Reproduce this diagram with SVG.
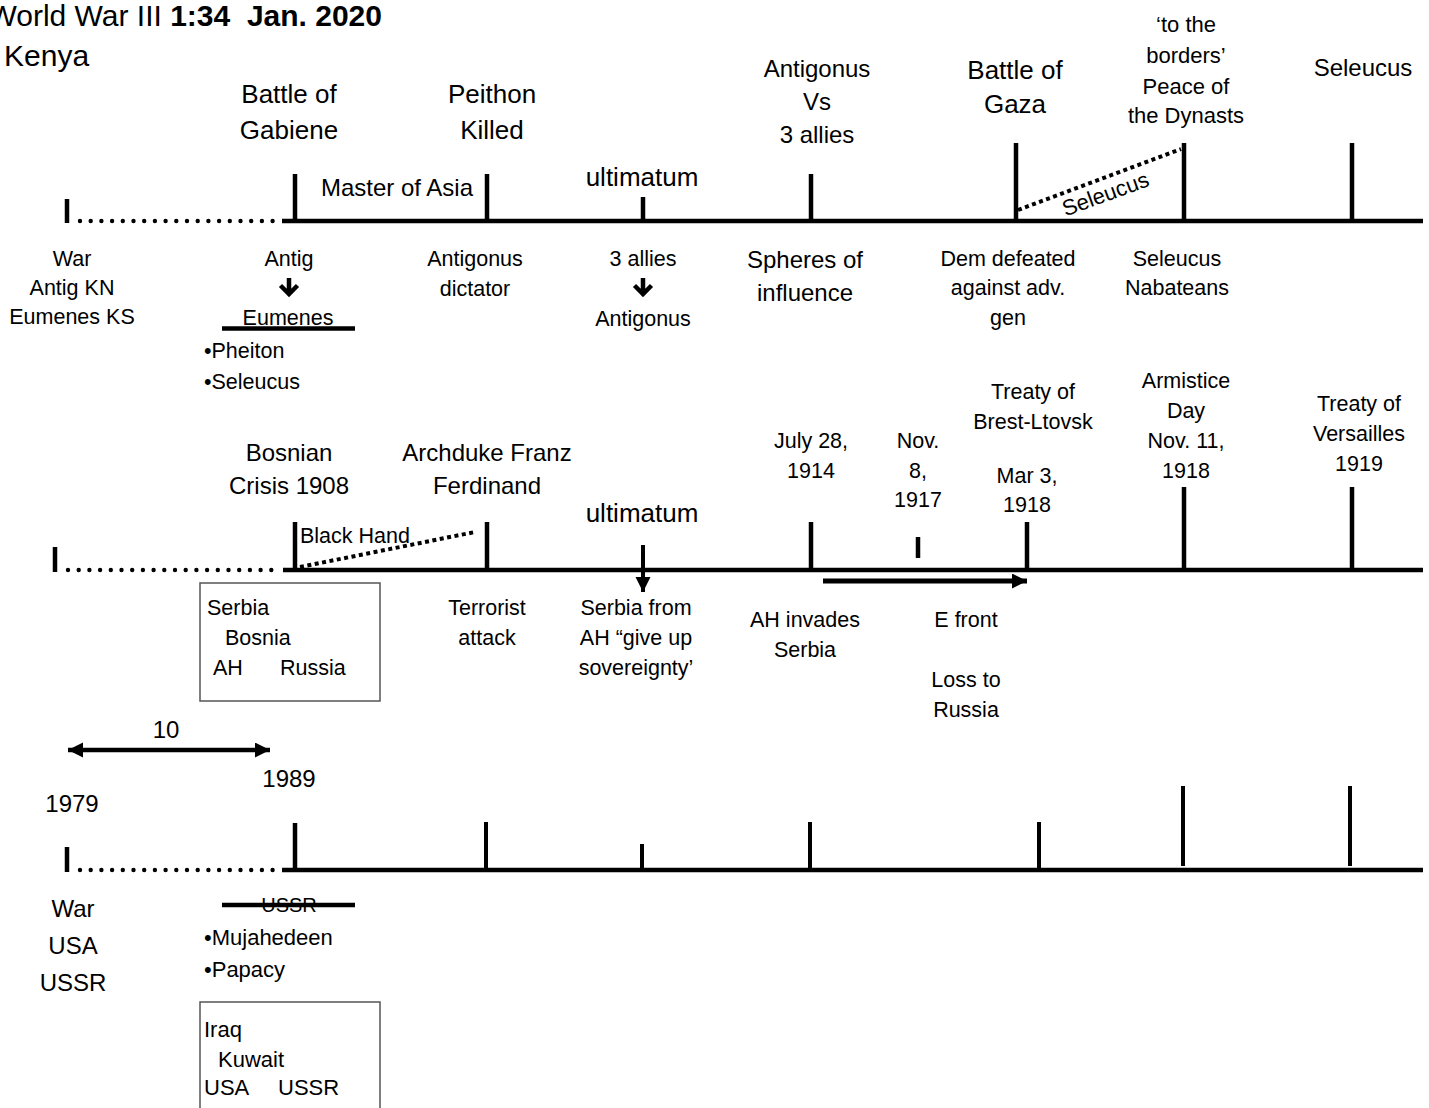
<svg xmlns="http://www.w3.org/2000/svg" width="1429" height="1108" viewBox="0 0 1429 1108">
<style>
text{font-family:"Liberation Sans",Arial,sans-serif;fill:#000}
.c{text-anchor:middle}
.s21{font-size:21.5px}
.s22{font-size:22px}
.s24{font-size:24px}
.s26{font-size:26px}
.ln{stroke:#000;stroke-width:4.5;fill:none}
.tk{stroke:#000;stroke-width:4.5;fill:none}
.tk3{stroke:#000;stroke-width:4;fill:none}
.dots{stroke:#000;stroke-width:4.4;stroke-linecap:round;stroke-dasharray:0 10.7;fill:none}
.dash{stroke:#000;stroke-width:4;stroke-dasharray:4 3.5;fill:none}
.box{fill:none;stroke:#555;stroke-width:1.5}
.dn{stroke:#000;stroke-width:4.5;fill:none;stroke-linejoin:miter}
</style>
<defs>
<marker id="ah" markerUnits="userSpaceOnUse" markerWidth="16" markerHeight="16" refX="15" refY="7.5" orient="auto-start-reverse" viewBox="0 0 16 16">
<path d="M0,0 L15,7.5 L0,15 z" fill="#000"/>
</marker>
</defs>
<rect width="1429" height="1108" fill="#fff"/>

<g id="connectors">
<!-- timeline 1 -->
<line class="tk" x1="67" y1="199" x2="67" y2="223"/>
<line class="dots" x1="80" y1="221" x2="278" y2="221"/>
<line class="ln" x1="282" y1="221" x2="1423" y2="221"/>
<line class="tk" x1="295" y1="174" x2="295" y2="221"/>
<line class="tk" x1="487" y1="174" x2="487" y2="221"/>
<line class="tk" x1="643" y1="197" x2="643" y2="221"/>
<line class="tk" x1="811" y1="174" x2="811" y2="221"/>
<line class="tk" x1="1016" y1="143" x2="1016" y2="221"/>
<line class="tk" x1="1184" y1="143" x2="1184" y2="221"/>
<line class="tk" x1="1352" y1="143" x2="1352" y2="221"/>
<line class="dash" x1="1018" y1="210" x2="1181" y2="149"/>
<path class="dn" d="M289,278 V294 M280.5,285.5 L289,294 L297.5,285.5"/>
<path class="dn" d="M643,278 V294 M634.5,285.5 L643,294 L651.5,285.5"/>
<line class="tk" x1="222" y1="328.5" x2="355" y2="328.5"/>
<!-- timeline 2 -->
<line class="tk" x1="55" y1="547" x2="55" y2="572"/>
<line class="dots" x1="68" y1="570" x2="275" y2="570"/>
<line class="ln" x1="283" y1="570" x2="1423" y2="570"/>
<line class="tk" x1="295" y1="522" x2="295" y2="570"/>
<line class="tk" x1="487" y1="522" x2="487" y2="570"/>
<line class="tk" x1="811" y1="522" x2="811" y2="570"/>
<line class="tk" x1="918" y1="537" x2="918" y2="558"/>
<line class="tk" x1="1027" y1="522" x2="1027" y2="570"/>
<line class="tk" x1="1184" y1="487" x2="1184" y2="568"/>
<line class="tk" x1="1352" y1="487" x2="1352" y2="568"/>
<line class="dash" x1="300" y1="567" x2="475" y2="532"/>
<line x1="643" y1="545" x2="643" y2="592" stroke="#000" stroke-width="4" marker-end="url(#ah)"/>
<line x1="823" y1="581" x2="1027" y2="581" stroke="#000" stroke-width="5" marker-end="url(#ah)"/>
<!-- timeline 3 -->
<line x1="68" y1="750" x2="270" y2="750" stroke="#000" stroke-width="4.5" marker-start="url(#ah)" marker-end="url(#ah)"/>
<line class="tk" x1="67" y1="847" x2="67" y2="872"/>
<line class="dots" x1="80" y1="870" x2="275" y2="870"/>
<line class="ln" x1="282" y1="870" x2="1423" y2="870"/>
<line class="tk" x1="295" y1="823" x2="295" y2="870"/>
<line class="tk3" x1="486" y1="822" x2="486" y2="870"/>
<line class="tk3" x1="642" y1="844" x2="642" y2="870"/>
<line class="tk3" x1="810" y1="822" x2="810" y2="870"/>
<line class="tk3" x1="1039" y1="822" x2="1039" y2="870"/>
<line class="tk3" x1="1183" y1="786" x2="1183" y2="866"/>
<line class="tk3" x1="1350" y1="786" x2="1350" y2="866"/>
<line class="tk" x1="222" y1="905" x2="355" y2="905"/>
</g>

<g id="title">
<text x="382" y="26" font-size="30" text-anchor="end" xml:space="preserve">World War III <tspan font-weight="bold">1:34  Jan. 2020</tspan></text>
<text x="4" y="66" font-size="30">Kenya</text>
</g>

<!-- Section 1 top labels -->
<g id="n-gabiene"><text class="c s26" x="289" y="103">Battle of</text><text class="c s26" x="289" y="139">Gabiene</text></g>
<g id="n-master"><text class="c s24" x="397" y="196">Master of Asia</text></g>
<g id="n-peithon"><text class="c s26" x="492" y="103">Peithon</text><text class="c s26" x="492" y="139">Killed</text></g>
<g id="n-ultimatum1"><text class="c s26" x="642" y="186">ultimatum</text></g>
<g id="n-antvs"><text class="c s24" x="817" y="77">Antigonus</text><text class="c s24" x="817" y="110">Vs</text><text class="c s24" x="817" y="143">3 allies</text></g>
<g id="n-gaza"><text class="c s26" x="1015" y="79">Battle of</text><text class="c s26" x="1015" y="113">Gaza</text></g>
<g id="n-seleucus-dash"><text class="s22 c" transform="translate(1108,201) rotate(-20)">Seleucus</text></g>
<g id="n-dynasts"><text class="c s22" x="1186" y="32">‘to the</text><text class="c s22" x="1186" y="63">borders’</text><text class="c s22" x="1186" y="94">Peace of</text><text class="c s22" x="1186" y="123">the Dynasts</text></g>
<g id="n-seleucus-top"><text class="c s24" x="1363" y="76">Seleucus</text></g>

<!-- Section 1 bottom labels -->
<g id="n-war1"><text class="c s21" x="72" y="266">War</text><text class="c s21" x="72" y="295">Antig KN</text><text class="c s21" x="72" y="324">Eumenes KS</text></g>
<g id="n-antig"><text class="c s21" x="289" y="266">Antig</text><text class="c s21" x="288" y="325">Eumenes</text><text class="s21" x="204" y="358">•Pheiton</text><text class="s21" x="204" y="389">•Seleucus</text></g>
<g id="n-dictator"><text class="c s21" x="475" y="266">Antigonus</text><text class="c s21" x="475" y="296">dictator</text></g>
<g id="n-3allies"><text class="c s21" x="643" y="266">3 allies</text><text class="c s21" x="643" y="326">Antigonus</text></g>
<g id="n-spheres"><text class="c s24" x="805" y="268">Spheres of</text><text class="c s24" x="805" y="301">influence</text></g>
<g id="n-dem"><text class="c s21" x="1008" y="266">Dem defeated</text><text class="c s21" x="1008" y="295">against adv.</text><text class="c s21" x="1008" y="325">gen</text></g>
<g id="n-nabateans"><text class="c s21" x="1177" y="266">Seleucus</text><text class="c s21" x="1177" y="295">Nabateans</text></g>

<!-- Section 2 top labels -->
<g id="n-bosnian"><text class="c s24" x="289" y="461">Bosnian</text><text class="c s24" x="289" y="494">Crisis 1908</text></g>
<g id="n-blackhand"><text class="s21" x="300" y="543">Black Hand</text></g>
<g id="n-franz"><text class="c s24" x="487" y="461">Archduke Franz</text><text class="c s24" x="487" y="494">Ferdinand</text></g>
<g id="n-ultimatum2"><text class="c s26" x="642" y="522">ultimatum</text></g>
<g id="n-july"><text class="c s21" x="811" y="448">July 28,</text><text class="c s21" x="811" y="478">1914</text></g>
<g id="n-nov"><text class="c s21" x="918" y="448">Nov.</text><text class="c s21" x="918" y="478">8,</text><text class="c s21" x="918" y="507">1917</text></g>
<g id="n-brest"><text class="c s21" x="1033" y="399">Treaty of</text><text class="c s21" x="1033" y="429">Brest-Ltovsk</text><text class="c s21" x="1027" y="483">Mar 3,</text><text class="c s21" x="1027" y="512">1918</text></g>
<g id="n-armistice"><text class="c s21" x="1186" y="388">Armistice</text><text class="c s21" x="1186" y="418">Day</text><text class="c s21" x="1186" y="448">Nov. 11,</text><text class="c s21" x="1186" y="478">1918</text></g>
<g id="n-versailles"><text class="c s21" x="1359" y="411">Treaty of</text><text class="c s21" x="1359" y="441">Versailles</text><text class="c s21" x="1359" y="471">1919</text></g>

<!-- Section 2 bottom labels -->
<g id="n-serbia-box"><rect class="box" x="200" y="583" width="180" height="118"/><text class="s21" x="207" y="615">Serbia</text><text class="s21" x="225" y="645">Bosnia</text><text class="s21" x="213" y="675">AH</text><text class="s21" x="280" y="675">Russia</text></g>
<g id="n-terrorist"><text class="c s21" x="487" y="615">Terrorist</text><text class="c s21" x="487" y="645">attack</text></g>
<g id="n-serbiafrom"><text class="c s21" x="636" y="615">Serbia from</text><text class="c s21" x="636" y="645">AH “give up</text><text class="c s21" x="636" y="675">sovereignty’</text></g>
<g id="n-invades"><text class="c s21" x="805" y="627">AH invades</text><text class="c s21" x="805" y="657">Serbia</text></g>
<g id="n-efront"><text class="c s21" x="966" y="627">E front</text><text class="c s21" x="966" y="687">Loss to</text><text class="c s21" x="966" y="717">Russia</text></g>

<!-- Section 3 -->
<g id="n-ten"><text class="c s24" x="166" y="738">10</text></g>
<g id="n-1989"><text class="c s24" x="289" y="787">1989</text></g>
<g id="n-1979"><text class="c s24" x="72" y="812">1979</text></g>
<g id="n-war3"><text class="c s24" x="73" y="917">War</text><text class="c s24" x="73" y="954">USA</text><text class="c s24" x="73" y="991">USSR</text></g>
<g id="n-ussr"><text class="c" font-size="20" x="289" y="912">USSR</text><text class="s22" x="204" y="945">•Mujahedeen</text><text class="s22" x="204" y="977">•Papacy</text></g>
<g id="n-iraq-box"><rect class="box" x="200" y="1002" width="180" height="120"/><text class="s22" x="204" y="1037">Iraq</text><text class="s22" x="218" y="1067">Kuwait</text><text class="s22" x="204" y="1095">USA</text><text class="s22" x="278" y="1095">USSR</text></g>
</svg>
